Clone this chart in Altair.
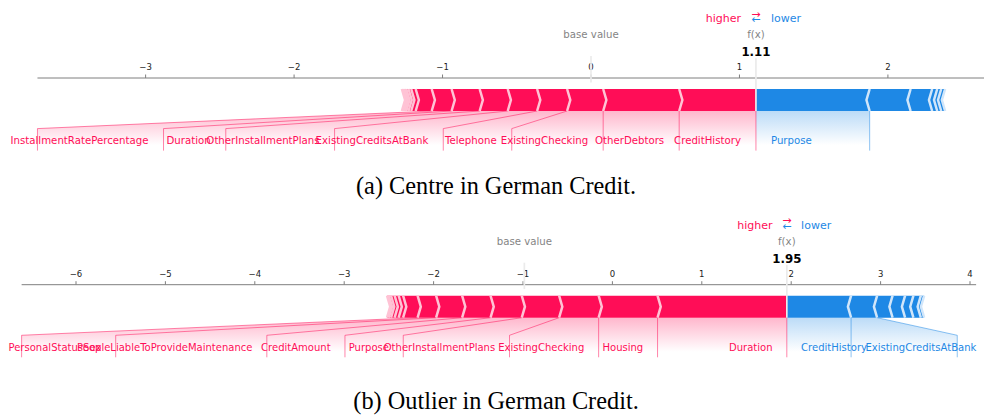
import altair as alt
import pandas as pd

# ---------------- values ----------------
A_BASE_VALUE = 0.0
A_POS_NAMES = ["CreditHistory", "OtherDebtors", "ExistingChecking", "Telephone",
               "ExistingCreditsAtBank", "OtherInstallmentPlans", "Duration",
               "InstallmentRatePercentage", "", "", "", "", "", "", ""]
A_POS_VALUES = [0.517, 0.512, 0.243, 0.202, 0.198, 0.189, 0.189, 0.134,
                0.108, 0.030, 0.018, 0.015, 0.012, 0.010, 0.008]
A_NEG_NAMES = ["Purpose", "", "", "", "", ""]
A_NEG_VALUES = [-0.766, -0.276, -0.145, -0.034, -0.027, -0.026]
A_TICKS = [-3, -2, -1, 0, 1, 2]
A_CAPTION = "(a) Centre in German Credit."

B_BASE_VALUE = -0.985
B_POS_NAMES = ["Duration", "Housing", "ExistingChecking", "OtherInstallmentPlans",
               "Purpose", "CreditAmount", "PeopleLiableToProvideMaintenance",
               "PersonalStatusSex", "", "", "", "", "", ""]
B_POS_VALUES = [1.446, 0.659, 0.442, 0.418, 0.349, 0.318, 0.291, 0.207,
                0.162, 0.050, 0.045, 0.040, 0.025, 0.020]
B_NEG_NAMES = ["CreditHistory", "ExistingCreditsAtBank", "", "", "", "", ""]
B_NEG_VALUES = [-0.719, -0.291, -0.173, -0.140, -0.093, -0.083, -0.037]
B_TICKS = [-6, -5, -4, -3, -2, -1, 0, 1, 2, 3, 4]
B_CAPTION = "(b) Outlier in German Credit."

# ---------------- styling / layout ----------------
W, H = 976, 408
Y_PX = 220.0
Y_TOP = 0.4682
Y_DOMAIN = [Y_TOP - H / Y_PX, Y_TOP]

RED, BLUE = "#FF0D57", "#1E88E5"
RED_SEP, BLUE_SEP = "#FFC3D5", "#D1E6FA"
GRAY_LINE = "#EBEBEB"
AXIS_GRAY = "#7f7f7f"
FONT = "DejaVu Sans"
SERIF = "Liberation Serif"
LABEL_FS = 10.2
TEXT_RATIO = 0.674
TEXT_PAD = 2.4
SEP_PX = 3.2
PAD_FRAC = 0.13
BAR_W = 0.1
AXIS_Y = 0.15
TICK_LEN_PX = 3.5
TICK_LABEL_GAP_PX = 7.9
CAPTION_X = W / 2
CAPTION_FS = 24.3

ADV = {
    " ": 651, "A": 1401, "B": 1405, "C": 1430, "D": 1577, "E": 1294, "F": 1178, "G": 1589,
    "H": 1540, "I": 604, "J": 604, "K": 1343, "L": 1141, "M": 1767, "N": 1532, "O": 1612,
    "P": 1235, "Q": 1612, "R": 1423, "S": 1300, "T": 1251, "U": 1499, "V": 1401, "W": 2025,
    "X": 1403, "Y": 1251, "Z": 1403,
    "a": 1255, "b": 1300, "c": 1126, "d": 1300, "e": 1260, "f": 721, "g": 1300, "h": 1298,
    "i": 569, "j": 569, "k": 1186, "l": 569, "m": 1995, "n": 1298, "o": 1253, "p": 1300,
    "q": 1300, "r": 842, "s": 1067, "t": 803, "u": 1298, "v": 1212, "w": 1675, "x": 1212,
    "y": 1212, "z": 1075,
}


def text_px(s, fs):
    return sum(ADV.get(c, 1200) for c in s) / 2048.0 * fs


def build_panel(base, pos_names, pos_vals, neg_names, neg_vals, ticks, caption,
                ppu, zero, ys, fscale, off_px, cap_y):
    px = lambda u: zero + u * ppu
    un = lambda p: (p - zero) / ppu
    xs = alt.Scale(domain=[un(0.0), un(float(W))], nice=False, zero=False)
    ysc = alt.Scale(domain=Y_DOMAIN, nice=False, zero=False)
    fs = LABEL_FS * fscale

    total_pos = sum(pos_vals)
    total_neg = -sum(neg_vals)
    out = base + total_pos - total_neg
    off_u = off_px / ppu
    ind = SEP_PX / ppu

    bar_rows, sep_rows, line_rows, lab_rows = [], [], [], []
    shades, box_ends = {}, {}
    sides = (("pos", pos_names, pos_vals, 1, RED, RED_SEP),
             ("neg", neg_names, neg_vals, -1, BLUE, BLUE_SEP))
    for side, names, vals, sgn, col, scol in sides:
        ind_s = sgn * ind
        pre = out
        bounds = []
        for i, (nm, v) in enumerate(zip(names, vals)):
            far = pre - v
            lo, hi = min(pre, far), max(pre, far)
            fid = f"{side}{i}"
            if i == 0:
                mid = (lo + ind_s, hi) if sgn > 0 else (lo, hi + ind_s)
            else:
                mid = (lo + 0.9 * ind_s, hi + 0.9 * ind_s)
            for yy, (a, b) in ((0.0, (lo, hi)), (BAR_W / 2, mid), (BAR_W, (lo, hi))):
                bar_rows.append({"fid": fid, "x": a, "x2": b, "y": yy + ys, "c": col})
            for k, (xx, yy) in enumerate(((far, 0.0), (far + ind_s, BAR_W / 2), (far, BAR_W))):
                sep_rows.append({"fid": fid, "k": k, "x": xx, "y": yy + ys, "c": scol})
            bounds.append((nm, far))
            pre = far

        start = px(out)
        box_end = px(out)
        last = out
        if sgn > 0:
            line_rows.append({"lid": "init", "k": 0, "x": out, "y": 0.0 + ys, "c": col})
            line_rows.append({"lid": "init", "k": 1, "x": out, "y": -0.18 + ys, "c": col})
        for j, (nm, far) in enumerate(bounds):
            if not nm:
                break
            vpx = px(far)
            w = text_px(nm, fs)
            anchor = start - sgn * off_px
            be_ = anchor - sgn * (TEXT_RATIO * w + TEXT_PAD)
            lab_rows.append({"side": side, "label": nm, "x": un(anchor), "y": -0.15 + ys})
            if sgn * be_ > sgn * vpx:
                pts = [(far, 0.0), (far, -0.18)]
                start = vpx
                box_end = vpx
            else:
                box_end = be_ - sgn * off_px
                pts = [(far, 0.0), (un(box_end), -0.08), (un(box_end), -0.18)]
                start = box_end
            for k, (xx, yy) in enumerate(pts):
                line_rows.append({"lid": f"{side}{j}", "k": k, "x": xx, "y": yy + ys, "c": col})
            last = far
        be_u = un(box_end)
        spts = [(out, 0.0), (last, 0.0)]
        if abs(be_u - last) > 1e-9:
            spts.append((be_u, -0.08))
        spts = sorted(spts, key=lambda p: p[0])
        shades[side] = (spts, col)
        box_ends[side] = be_u

    pad = PAD_FRAC * max(total_pos, total_neg)
    lim_lo = min(min(out - total_pos, base) - pad, box_ends["pos"])
    lim_hi = max(max(out + total_neg, base) + pad, box_ends["neg"])

    X = lambda f="x": alt.X(f"{f}:Q", scale=xs, axis=None, stack=None)
    Y = lambda f="y": alt.Y(f"{f}:Q", scale=ysc, axis=None)
    C = alt.Color("c:N", scale=None, legend=None)

    layers = []

    # axis line, ticks and tick labels
    layers.append(alt.Chart(pd.DataFrame([{"x": lim_lo, "x2": lim_hi, "y": AXIS_Y + ys}])).mark_rule(
        color=AXIS_GRAY, strokeWidth=1).encode(x=X(), x2="x2:Q", y=Y()))
    tick_df = pd.DataFrame({
        "x": ticks,
        "y": [AXIS_Y + ys] * len(ticks),
        "y2": [AXIS_Y + TICK_LEN_PX / Y_PX + ys] * len(ticks),
        "yl": [AXIS_Y + TICK_LABEL_GAP_PX / Y_PX + ys] * len(ticks),
        "t": [str(t).replace("-", "\u2212") for t in ticks],
    })
    layers.append(alt.Chart(tick_df).mark_rule(color=AXIS_GRAY, strokeWidth=1).encode(
        x=X(), y=Y(), y2="y2:Q"))
    layers.append(alt.Chart(tick_df).mark_text(font=FONT, fontSize=8.5, color="#222222", align="center",
                                               baseline="alphabetic").encode(x=X(), y=Y("yl"), text="t:N"))

    for side in ("pos", "neg"):
        spts, col = shades[side]
        sdf = pd.DataFrame([{"x": x, "y": y + ys, "y2": -0.2 + ys} for x, y in spts])
        grad = alt.LinearGradient(
            gradient="linear", x1=0, y1=0, x2=0, y2=1,
            stops=[alt.GradientStop(color=col, offset=0),
                   alt.GradientStop(color="#FFFFFF", offset=0.775),
                   alt.GradientStop(color="#FFFFFF", offset=1)])
        layers.append(alt.Chart(sdf).mark_area(color=grad, opacity=0.3, interpolate="linear").encode(
            x=X(), y=Y(), y2="y2:Q"))

    layers.append(alt.Chart(pd.DataFrame(line_rows)).mark_line(strokeWidth=1, opacity=0.5).encode(
        x=X(), y=Y(), detail="lid:N", order="k:Q", color=C))

    layers.append(alt.Chart(pd.DataFrame(bar_rows)).mark_area(orient="horizontal", interpolate="linear").encode(
        y=Y(), x=X(), x2="x2:Q", detail="fid:N", color=C))

    layers.append(alt.Chart(pd.DataFrame(sep_rows)).mark_line(strokeWidth=2.5, strokeJoin="miter").encode(
        x=X(), y=Y(), detail="fid:N", order="k:Q", color=C))

    ref_df = pd.DataFrame([{"x": base, "y": 0.13 + ys, "y2": 0.25 + ys},
                           {"x": out, "y": 0.0 + ys, "y2": 0.24 + ys}])
    layers.append(alt.Chart(ref_df).mark_rule(color=GRAY_LINE, strokeWidth=1.7).encode(
        x=X(), y=Y(), y2="y2:Q"))

    gray_df = pd.DataFrame([{"t": "base value", "x": base, "y": 0.33 + ys},
                            {"t": "f(x)", "x": out, "y": 0.33 + ys}])
    layers.append(alt.Chart(gray_df).mark_text(font=FONT, fontSize=10.2, color="#000000", opacity=0.5,
                                               align="center", baseline="alphabetic").encode(
        x=X(), y=Y(), text="t:N"))
    val_df = pd.DataFrame([{"t": f"{out:.2f}", "x": out, "y": 0.25 + ys}])
    layers.append(alt.Chart(val_df).mark_text(font=FONT, fontSize=11.8, fontWeight="bold", color="#000000",
                                              align="center", baseline="alphabetic").encode(
        x=X(), y=Y(), text="t:N"))
    layers.append(alt.Chart(pd.DataFrame([{"t": "higher", "x": out - off_u, "y": 0.405 + ys}])).mark_text(
        font=FONT, fontSize=11, color=RED, align="right", baseline="alphabetic").encode(
        x=X(), y=Y(), text="t:N"))
    layers.append(alt.Chart(pd.DataFrame([{"t": "lower", "x": out + off_u, "y": 0.405 + ys}])).mark_text(
        font=FONT, fontSize=11, color=BLUE, align="left", baseline="alphabetic").encode(
        x=X(), y=Y(), text="t:N"))
    arr_df = pd.DataFrame([{"t": "\u2192", "x": out, "y": 0.425 + ys, "c": RED},
                           {"t": "\u2190", "x": out, "y": 0.400 + ys, "c": BLUE}])
    layers.append(alt.Chart(arr_df).mark_text(font=FONT, fontSize=11, align="center",
                                              baseline="alphabetic").encode(
        x=X(), y=Y(), text="t:N", color=C))

    lab_df = pd.DataFrame(lab_rows)
    layers.append(alt.Chart(lab_df[lab_df.side == "pos"]).mark_text(
        font=FONT, fontSize=fs, color=RED, align="right", baseline="alphabetic").encode(
        x=X(), y=Y(), text="label:N"))
    layers.append(alt.Chart(lab_df[lab_df.side == "neg"]).mark_text(
        font=FONT, fontSize=fs, color=BLUE, align="left", baseline="alphabetic").encode(
        x=X(), y=Y(), text="label:N"))

    cap_df = pd.DataFrame([{"t": caption, "y": cap_y + ys}])
    layers.append(alt.Chart(cap_df).mark_text(font=SERIF, fontSize=CAPTION_FS, color="#000000",
                                              align="center", baseline="middle").encode(
        x=alt.value(CAPTION_X), y=Y(), text="t:N"))

    return alt.layer(*layers)


panel_a = build_panel(A_BASE_VALUE, A_POS_NAMES, A_POS_VALUES, A_NEG_NAMES, A_NEG_VALUES,
                      A_TICKS, A_CAPTION, ppu=148.46, zero=583.0, ys=0.0, fscale=1.0,
                      off_px=15.0, cap_y=-0.345)
panel_b = build_panel(B_BASE_VALUE, B_POS_NAMES, B_POS_VALUES, B_NEG_NAMES, B_NEG_VALUES,
                      B_TICKS, B_CAPTION, ppu=89.4, zero=604.4, ys=-0.9395, fscale=0.985,
                      off_px=14.3, cap_y=-0.385)

chart = alt.layer(panel_a, panel_b).resolve_scale(x="independent").properties(
    width=W, height=H, autosize=alt.AutoSizeParams(type="none"), padding=0, background="white"
).configure_view(stroke=None)

chart.save("out.html", embed_options={"renderer": "svg", "actions": False})
